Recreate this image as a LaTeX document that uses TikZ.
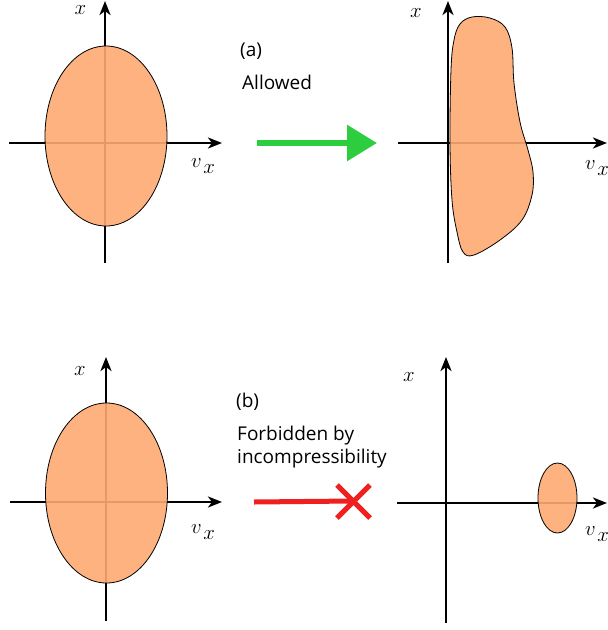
\documentclass[tikz,border=0pt]{standalone}
\usepackage{fontspec}
\setmainfont{Open Sans}
\usetikzlibrary{arrows.meta}
\definecolor{blobfill}{RGB}{253,170,114}
\definecolor{okgreen}{RGB}{44,206,64}
\definecolor{nored}{RGB}{238,32,32}
\newcommand{\vxlabel}{$v$\hspace{1.5pt}\raisebox{-6pt}{\fontsize{20}{22}\selectfont$x$}}
\tikzset{
  axis/.style={line width=2.6pt,-{Stealth[length=14pt,width=11pt,inset=4pt]}},
  blob/.style={draw=black,line width=0.8pt,fill=blobfill,fill opacity=0.9},
  lbl/.style={font=\fontsize{19}{23}\selectfont,anchor=base west,inner sep=0pt},
  mathlbl/.style={font=\fontsize{21}{25}\selectfont,inner sep=0pt,anchor=base},
  vlbl/.style={font=\fontsize{22.5}{26}\selectfont,inner sep=0pt},
  allowedarrow/.style={okgreen,line width=6pt,-{Triangle[length=30pt,width=35pt]}},
  forbidline/.style={nored,line width=5pt}
}
\begin{document}
\begin{tikzpicture}[x=1pt,y=-1pt]
\useasboundingbox (0,0) rectangle (608,630);
% ---- top left panel
\coordinate (tlxl) at (9,143);  \coordinate (tlxr) at (222,143);
\coordinate (tlyb) at (105,263); \coordinate (tlyt) at (105,1);
\draw[axis] (tlxl) -- (tlxr);
\draw[axis] (tlyb) -- (tlyt);
\draw[blob] (106,136) ellipse [x radius=61, y radius=90];
\node[mathlbl] (tlx) at (80.5,14) {$x$};
\node[vlbl] (tlv) at (203,166) {\vxlabel};
% ---- top right panel
\coordinate (trxl) at (398,143); \coordinate (trxr) at (607,143);
\coordinate (tryb) at (448,263); \coordinate (tryt) at (448,1);
\draw[axis] (trxl) -- (trxr);
\draw[axis] (tryb) -- (tryt);
\draw[blob] plot[smooth cycle,tension=0.6] coordinates {
 (472,17) (490,18) (505,27) (512,48) (514,83) (520,122) (528,150) (533,172)
 (532,195) (522,220) (500,240) (474,255) (463,252) (457,232) (452,200)
 (450,143) (451,70) (454,40) (460,24)};
\node[mathlbl] (trx) at (416,17) {$x$};
\node[vlbl] (trv) at (597,168) {\vxlabel};
% ---- middle top
\node[lbl] (la) at (240,56) {(a)};
\node[lbl] (lallowed) at (242,89) {Allowed};
\coordinate (ga) at (257,143); \coordinate (gb) at (377,143);
\draw[allowedarrow] (ga) -- (gb);
% ---- bottom left panel
\coordinate (blxl) at (10,502); \coordinate (blxr) at (222,502);
\coordinate (blyb) at (106,621); \coordinate (blyt) at (106,357);
\draw[axis] (blxl) -- (blxr);
\draw[axis] (blyb) -- (blyt);
\draw[blob] (106.5,493) ellipse [x radius=61, y radius=90];
\node[mathlbl] (blx) at (80,375) {$x$};
\node[vlbl] (blv) at (203,532) {\vxlabel};
% ---- bottom right panel
\coordinate (brxl) at (397,503); \coordinate (brxr) at (607,503);
\coordinate (bryb) at (446,623); \coordinate (bryt) at (446,357);
\draw[axis] (brxl) -- (brxr);
\draw[axis] (bryb) -- (bryt);
\draw[blob] (557.5,498) ellipse [x radius=19.5, y radius=35];
\node[mathlbl] (brx) at (409,381) {$x$};
\node[vlbl] (brv) at (597,534) {\vxlabel};
% ---- middle bottom
\node[lbl] (lb) at (236,407) {(b)};
\node[lbl] (lforb) at (237,440) {Forbidden by};
\node[lbl] (lincomp) at (237,463) {incompressibility};
\coordinate (ra) at (254,502); \coordinate (rb) at (353,501);
\draw[forbidline] (ra) -- (rb);
\coordinate (c1) at (337,485); \coordinate (c2) at (370,518);
\coordinate (c3) at (337,518); \coordinate (c4) at (370,485);
\draw[forbidline] (c1) -- (c2);
\draw[forbidline] (c3) -- (c4);
\end{tikzpicture}
\end{document}
